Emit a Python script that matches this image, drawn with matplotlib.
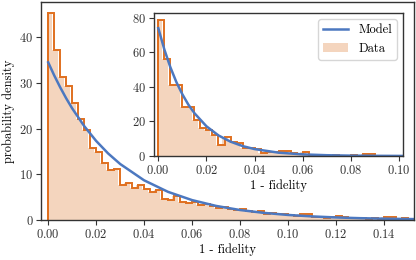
import numpy as np
import matplotlib
matplotlib.use("Agg")
import matplotlib.pyplot as plt

plt.rcParams['font.family'] = 'serif'
plt.rcParams['font.serif'] = ['cmr10', 'DejaVu Serif']
plt.rcParams['axes.formatter.use_mathtext'] = True
plt.rcParams['font.size'] = 9

# ---------- data ----------
bin_width = 0.0025
main_counts = [45.4, 37.3, 31.2, 29.4, 25.5, 22.0,
               19.7, 15.7, 14.9, 12.5, 10.9, 11.1, 7.7, 8.2, 7.1, 7.7, 6.7, 6.1,
               6.5, 4.6, 4.4, 5.2, 3.9, 3.7, 4.0, 3.2, 3.4, 3.0, 2.6, 2.9,
               2.4, 2.2, 2.5, 1.9, 1.7, 1.9, 1.4, 1.5, 1.2, 1.3, 1.0, 0.9,
               1.3, 1.2, 0.6, 0.7, 0.5, 0.6, 0.8, 0.7, 0.5, 0.4, 0.5, 0.3,
               0.4, 0.3, 0.6, 0.6, 0.3, 0.5]
inset_counts = [78.5, 56.0, 41.0, 41.0, 28.5, 28.5, 21.0, 16.5, 15.0, 12.0,
                6.5, 11.0, 8.0, 7.5, 4.6, 4.6, 4.2, 1.7, 2.5, 2.3,
                3.0, 3.0, 1.5, 1.2, 2.5, 0.6, 0.6, 0.5, 0.0, 0.5,
                0.0, 0.0, 0.5, 0.0, 1.0, 1.0, 0.0, 0.0, 0.0, 0.0]

model_x_main = [0, 0.0025, 0.005, 0.0075, 0.01, 0.015, 0.02, 0.025, 0.03, 0.04,
                0.05, 0.06, 0.07, 0.08, 0.09, 0.10, 0.11, 0.12, 0.13, 0.14, 0.155]
model_y_main = [34.5, 31.65, 29.04, 26.63, 24.43, 20.56, 17.30, 14.56, 12.26, 8.68,
                6.15, 4.35, 3.08, 2.18, 1.55, 1.10, 0.78, 0.55, 0.39, 0.28, 0.17]
model_x_inset = [0, 0.0025, 0.005, 0.0075, 0.01, 0.0125, 0.015, 0.02, 0.025, 0.03,
                 0.035, 0.04, 0.05, 0.06, 0.07, 0.08, 0.09, 0.10, 0.102]
model_y_inset = [74.0, 61.7, 51.4, 42.8, 35.7, 29.7, 24.8, 17.2, 11.9, 8.3,
                 5.75, 4.0, 1.92, 0.93, 0.45, 0.21, 0.10, 0.05, 0.04]

line_col = '#4c78c0'
edge_col = '#e0701f'
fill_col = '#f4d5be'


def draw_hist(ax, counts):
    counts = np.array(counts)
    edges = np.arange(len(counts) + 1) * bin_width
    # filled part, slightly offset from the outline
    xf = np.clip(edges - 0.4 * bin_width, 0, None)
    yf = np.append(counts, counts[-1])
    ax.fill_between(xf, yf, step='post', color=fill_col, lw=0, label='Data')
    ax.stairs(counts, edges, color=edge_col, lw=1.4)


fig = plt.figure(figsize=(4.16, 2.6), dpi=100)

# ---------- main ----------
ax = fig.add_axes([0.0986, 0.154, 0.896, 0.838])
draw_hist(ax, main_counts)
ax.plot([0, 0], [0, main_counts[0]], color=edge_col, lw=1.4)
ax.plot(model_x_main, model_y_main, color=line_col, lw=1.8)
ax.set_xlim(-0.003, 0.1525)
ax.set_ylim(0, 47.7)
ax.set_xticks(np.arange(0, 0.141, 0.02))
ax.set_yticks([0, 10, 20, 30, 40])
ax.set_xlabel('1 - fidelity', labelpad=2)
ax.set_ylabel('probability density', labelpad=3)

# ---------- inset ----------
ins = fig.add_axes([0.369, 0.40, 0.600, 0.55])
draw_hist(ins, inset_counts)
ins.plot([0, 0], [0, inset_counts[0]], color=edge_col, lw=1.4)
ins.plot(model_x_inset, model_y_inset, color=line_col, lw=1.8, label='Model')
ins.set_xlim(-0.002, 0.1017)
ins.set_ylim(0, 82.8)
ins.set_xticks(np.arange(0, 0.101, 0.02))
ins.set_yticks([0, 20, 40, 60, 80])
ins.set_xlabel('1 - fidelity', labelpad=2)
h, l = ins.get_legend_handles_labels()
ins.legend(h[::-1], l[::-1], loc='upper right', fontsize=9)

for a in (ax, ins):
    for s in a.spines.values():
        s.set_color('#333333')
        s.set_linewidth(1.0)
    a.tick_params(colors='#333333', labelcolor='#333333', length=3.5, pad=2)

plt.savefig('out.png', dpi=100)
